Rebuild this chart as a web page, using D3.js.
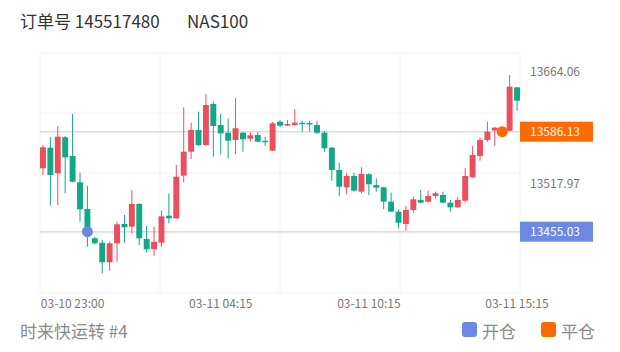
<!DOCTYPE html>
<html lang="zh">
<head>
<meta charset="UTF-8">
<title>NAS100 K线</title>
<script src="https://d3js.org/d3.v7.min.js"></script>
<style>
  body { margin: 0; background: #fff; }
  text { font-family: "Noto Sans CJK SC", "Noto Sans", sans-serif; }
</style>
</head>
<body>
<svg width="620" height="352"></svg>
<script>
// candle data
const opens = [13538.2, 13565.2, 13531.6, 13578.8, 13554.3, 13519.8, 13484.8, 13446.4, 13440.6, 13414.9,
  13439.8, 13465.1, 13461.6, 13491.4, 13445.5, 13432.0, 13440.6, 13476.0, 13472.6, 13528.5,
  13559.9, 13588.4, 13568.7, 13622.5, 13594.9, 13584.8, 13575.3, 13584.8, 13577.0, 13581.8,
  13574.3, 13561.2, 13599.2, 13594.5, 13594.9, 13597.9, 13597.6, 13594.9, 13584.8, 13565.2,
  13535.9, 13513.2, 13528.1, 13507.5, 13530.3, 13516.3, 13513.2, 13494.4, 13481.3, 13465.1,
  13483.5, 13496.6, 13494.4, 13501.8, 13503.1, 13493.1, 13487.0, 13495.7, 13526.4, 13554.3,
  13575.3, 13587.7, 13585.0, 13587.4, 13644.3];
const closes = [13565.7, 13529.4, 13579.6, 13552.6, 13520.6, 13484.4, 13455.0, 13439.8, 13414.9, 13439.8,
  13464.7, 13460.8, 13491.4, 13446.4, 13432.0, 13441.9, 13475.2, 13472.6, 13527.1, 13559.9,
  13588.4, 13568.7, 13621.1, 13593.6, 13584.0, 13574.3, 13590.6, 13576.2, 13581.4, 13573.0,
  13572.6, 13597.1, 13594.0, 13596.2, 13597.9, 13596.2, 13595.9, 13584.8, 13564.4, 13535.9,
  13514.0, 13528.1, 13508.8, 13530.7, 13517.2, 13512.7, 13494.4, 13481.3, 13466.8, 13483.5,
  13497.5, 13493.1, 13501.8, 13505.4, 13493.1, 13487.0, 13496.6, 13528.1, 13555.6, 13575.3,
  13586.1, 13591.4, 13587.5, 13645.1, 13626.8];
const highs = [13568.7, 13578.8, 13593.6, 13580.5, 13609.3, 13532.4, 13514.9, 13448.1, 13444.2, 13441.9,
  13468.1, 13476.9, 13509.7, 13492.5, 13462.9, 13461.6, 13482.6, 13505.4, 13542.5, 13618.1,
  13597.9, 13612.4, 13635.2, 13625.5, 13609.3, 13603.7, 13630.7, 13585.7, 13585.3, 13585.7,
  13579.6, 13598.9, 13601.6, 13601.6, 13615.5, 13600.2, 13600.2, 13600.2, 13587.1, 13566.1,
  13545.5, 13532.0, 13532.4, 13539.5, 13531.6, 13525.0, 13514.0, 13506.2, 13484.4, 13488.7,
  13500.9, 13509.7, 13508.8, 13507.5, 13507.5, 13496.6, 13500.9, 13538.2, 13567.4, 13578.8,
  13599.2, 13592.7, 13591.0, 13660.5, 13644.7];
const lows = [13529.4, 13489.1, 13490.0, 13505.4, 13519.5, 13468.1, 13435.4, 13438.3, 13400.5, 13403.9,
  13415.7, 13440.6, 13452.9, 13437.6, 13427.5, 13423.2, 13435.4, 13466.0, 13471.7, 13519.8,
  13550.3, 13567.4, 13567.4, 13553.4, 13556.5, 13551.3, 13556.5, 13559.9, 13573.0, 13572.6,
  13567.4, 13560.8, 13592.3, 13593.6, 13593.6, 13586.1, 13586.1, 13583.1, 13559.9, 13521.9,
  13501.8, 13504.1, 13507.7, 13505.4, 13503.1, 13507.5, 13484.4, 13480.9, 13459.5, 13456.3,
  13479.9, 13492.3, 13493.1, 13498.8, 13492.3, 13481.3, 13486.1, 13493.1, 13525.4, 13548.1,
  13573.0, 13567.4, 13582.0, 13587.0, 13613.7];

// axis / annotation values
const xTickIndex = [4, 24, 44, 64];
const xTickLabels = ["03-10 23:00", "03-11 04:15", "03-11 10:15", "03-11 15:15"];
const yTickLabels = [13664.06, 13517.97];
const yRange = [13374.67, 13689.31];
const openTrade = { index: 6, price: 13455.03 };
const closeTrade = { index: 62, price: 13586.13 };

const upColor = "#eb4f5e", downColor = "#12a886";
const openColor = "#6c88e2", closeColor = "#ff6a00";

const svg = d3.select("svg");
const plotL = 40, plotR = 520, plotT = 53, plotB = 293;

const x = d3.scaleBand()
  .domain(d3.range(opens.length))
  .range([plotL, plotR])
  .paddingInner(0.2);
const y = d3.scaleLinear().domain(yRange).range([plotB, plotT]);

// title
svg.append("text").attr("x", 20).attr("y", 28)
  .attr("font-size", 17).attr("fill", "#333")
  .text("订单号 145517480");
svg.append("text").attr("x", 187).attr("y", 28)
  .attr("font-size", 17).attr("fill", "#333")
  .text("NAS100");

// grid: 4x4 split
const grid = svg.append("g").attr("stroke", "#f2f2f2").attr("stroke-width", 1);
d3.range(5).forEach(i => {
  const gx = plotL + (plotR - plotL) * i / 4;
  grid.append("line").attr("x1", gx).attr("x2", gx).attr("y1", plotT).attr("y2", plotB);
  const gy = plotT + (plotB - plotT) * i / 4;
  grid.append("line").attr("x1", plotL).attr("x2", plotR).attr("y1", gy).attr("y2", gy);
});

// open / close price lines
[openTrade, closeTrade].forEach(t => {
  svg.append("line")
    .attr("x1", plotL).attr("x2", plotR)
    .attr("y1", y(t.price)).attr("y2", y(t.price))
    .attr("stroke", "#dcdcdc").attr("stroke-width", 1.5);
});

// candles
const candles = opens.map((o, i) => ({ i, o, c: closes[i], h: highs[i], l: lows[i] }));
const g = svg.append("g");
const bw = x.bandwidth();
g.selectAll("line.wick").data(candles).enter().append("line")
  .attr("class", "wick")
  .attr("x1", d => x(d.i) + bw / 2).attr("x2", d => x(d.i) + bw / 2)
  .attr("y1", d => y(d.h)).attr("y2", d => y(d.l))
  .attr("stroke", d => d.c >= d.o ? upColor : downColor)
  .attr("stroke-width", 1);
g.selectAll("rect.body").data(candles).enter().append("rect")
  .attr("class", "body")
  .attr("x", d => x(d.i))
  .attr("width", bw)
  .attr("y", d => y(Math.max(d.o, d.c)))
  .attr("height", d => Math.max(1.5, Math.abs(y(d.o) - y(d.c))))
  .attr("fill", d => d.c >= d.o ? upColor : downColor);

// trade markers
[[openTrade, openColor], [closeTrade, closeColor]].forEach(([t, col]) => {
  svg.append("circle")
    .attr("cx", x(t.index) + bw / 2).attr("cy", y(t.price))
    .attr("r", 5.5).attr("fill", col);
});

// right axis labels
yTickLabels.forEach(v => {
  svg.append("text").attr("x", 530).attr("y", y(v))
    .attr("dy", "0.35em").attr("font-size", 12).attr("fill", "#777")
    .text(v.toFixed(2));
});
[[openTrade, openColor], [closeTrade, closeColor]].forEach(([t, col]) => {
  svg.append("rect").attr("x", plotR).attr("y", y(t.price) - 10)
    .attr("width", 73).attr("height", 20).attr("fill", col);
  svg.append("text").attr("x", 530).attr("y", y(t.price))
    .attr("dy", "0.35em").attr("font-size", 12).attr("fill", "#fff")
    .text(t.price.toFixed(2));
});

// bottom axis labels
xTickIndex.forEach((idx, k) => {
  svg.append("text").attr("x", x(idx) + bw / 2).attr("y", plotB + 6)
    .attr("dy", "0.71em").attr("text-anchor", "middle")
    .attr("font-size", 12).attr("fill", "#777")
    .text(xTickLabels[k]);
});

// footer
svg.append("text").attr("x", 20).attr("y", 338)
  .attr("font-size", 17).attr("fill", "#8a8a8a")
  .text("时来快运转 #4");
const legend = [["开仓", openColor, 462], ["平仓", closeColor, 541]];
legend.forEach(([name, col, lx]) => {
  svg.append("rect").attr("x", lx).attr("y", 322).attr("width", 15).attr("height", 15)
    .attr("rx", 3).attr("fill", col);
  svg.append("text").attr("x", lx + 20).attr("y", 338)
    .attr("font-size", 17).attr("fill", "#8a8a8a").text(name);
});
</script>
</body>
</html>
